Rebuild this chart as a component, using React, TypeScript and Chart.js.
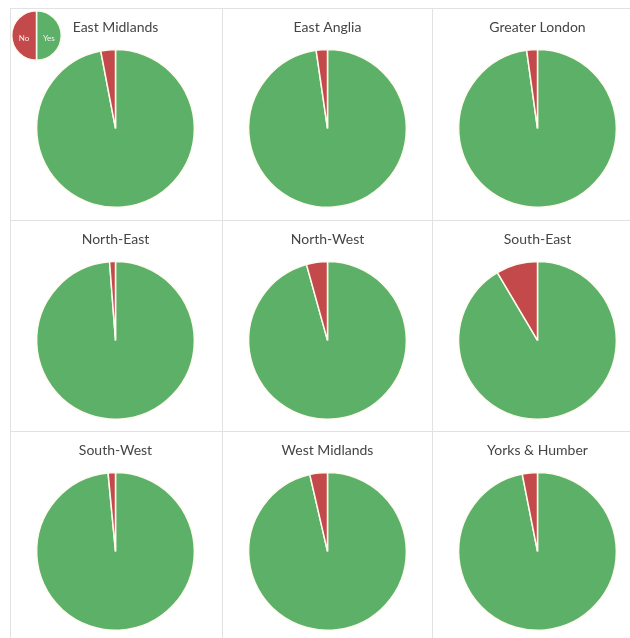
import React, { useEffect, useRef } from "react";
import { Chart, registerables } from "chart.js";

Chart.register(...registerables);

// ---- data ----
const regions = [
  "East Midlands",
  "East Anglia",
  "Greater London",
  "North-East",
  "North-West",
  "South-East",
  "South-West",
  "West Midlands",
  "Yorks & Humber",
];
const answerLabels = ["Yes", "No"];
const yesValues = [97.0, 97.7, 97.8, 98.8, 95.7, 91.5, 98.5, 96.4, 96.9];
const noValues = [3.0, 2.3, 2.2, 1.2, 4.3, 8.5, 1.5, 3.6, 3.1];
const legendValues = [50, 50];

// ---- style ----
const GREEN = "#5cb067";
const RED = "#c4494a";
const EDGE = "#fffaf0";
const GRID = "#e2e2e2";
const FONT = "Lato, 'Open Sans', sans-serif";

const GRID_LEFT = 10;
const GRID_TOP = 8;
const COL_X = [10, 222, 432];
const ROW_Y = [8, 220, 431];
const CELL = 211;

function RegionPie({ idx }: { idx: number }) {
  const ref = useRef<HTMLCanvasElement>(null);
  useEffect(() => {
    const chart = new Chart(ref.current!, {
      type: "pie",
      data: {
        labels: answerLabels,
        datasets: [
          {
            data: [yesValues[idx], noValues[idx]],
            backgroundColor: [GREEN, RED],
            borderColor: EDGE,
            borderWidth: 1.5,
            hoverOffset: 0,
          },
        ],
      },
      options: {
        responsive: false,
        animation: false,
        events: [],
        layout: { padding: { top: 0, bottom: 11, left: 0, right: 0 } },
        plugins: {
          legend: { display: false },
          tooltip: { enabled: false },
          title: {
            display: true,
            text: regions[idx],
            color: "#454545",
            font: { family: FONT, size: 14, weight: "normal" },
            padding: { top: 11, bottom: 13 },
          },
        },
      },
    });
    return () => chart.destroy();
  }, [idx]);
  const col = idx % 3;
  const row = Math.floor(idx / 3);
  return (
    <canvas
      ref={ref}
      width={CELL}
      height={CELL}
      style={{ position: "absolute", left: COL_X[col], top: ROW_Y[row] }}
    />
  );
}

const sliceLabels = {
  id: "sliceLabels",
  afterDatasetsDraw(chart: any) {
    const ctx = chart.ctx;
    const meta = chart.getDatasetMeta(0);
    ctx.save();
    ctx.fillStyle = "#f4f4f4";
    ctx.font = `8px ${FONT}`;
    ctx.textAlign = "center";
    ctx.textBaseline = "middle";
    meta.data.forEach((arc: any, i: number) => {
      const p = arc.tooltipPosition();
      ctx.fillText(chart.data.labels[i], p.x, p.y + 3);
    });
    ctx.restore();
  },
};

function LegendPie() {
  const ref = useRef<HTMLCanvasElement>(null);
  useEffect(() => {
    const chart = new Chart(ref.current!, {
      type: "pie",
      data: {
        labels: answerLabels,
        datasets: [
          {
            data: legendValues,
            backgroundColor: [GREEN, RED],
            borderColor: EDGE,
            borderWidth: 1.5,
            hoverOffset: 0,
          },
        ],
      },
      options: {
        responsive: false,
        animation: false,
        events: [],
        layout: { padding: 0 },
        plugins: {
          legend: { display: false },
          tooltip: { enabled: false },
        },
      },
      plugins: [sliceLabels],
    });
    return () => chart.destroy();
  }, []);
  return (
    <canvas
      ref={ref}
      width={51}
      height={51}
      style={{ position: "absolute", left: 11, top: 10 }}
    />
  );
}

export default function App() {
  const lines: React.ReactNode[] = [];
  // horizontal lines
  ROW_Y.forEach((y, i) =>
    lines.push(
      <div
        key={"h" + i}
        style={{
          position: "absolute",
          left: GRID_LEFT,
          top: y,
          width: 630 - GRID_LEFT,
          height: 1,
          background: GRID,
        }}
      />
    )
  );
  COL_X.forEach((x, i) =>
    lines.push(
      <div
        key={"v" + i}
        style={{
          position: "absolute",
          left: x,
          top: GRID_TOP,
          width: 1,
          height: 638 - GRID_TOP,
          background: GRID,
        }}
      />
    )
  );
  return (
    <div
      style={{
        position: "fixed",
        left: 0,
        top: 0,
        width: 630,
        height: 638,
        background: "#ffffff",
        overflow: "hidden",
      }}
    >
      {lines}
      {regions.map((_, i) => (
        <RegionPie key={i} idx={i} />
      ))}
      <LegendPie />
    </div>
  );
}
